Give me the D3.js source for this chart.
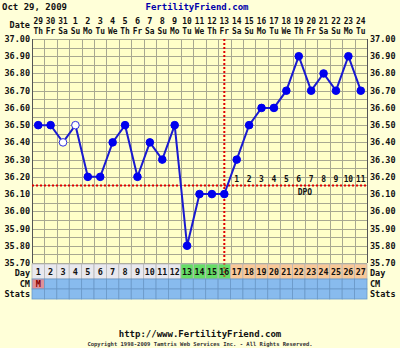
<!DOCTYPE html>
<html><head><meta charset="utf-8">
<script src="https://cdn.jsdelivr.net/npm/d3@7"></script>
<style>
html,body{margin:0;padding:0;background:#ffffd8;}
svg{display:block;}
text{font-family:"DejaVu Sans Mono",monospace;font-weight:bold;fill:#111;}
</style></head><body>
<div id="chart"></div>
<script>
const cycleDays = d3.range(1, 28);
const dates = ["29","30","31","1","2","3","4","5","6","7","8","9","10","11","12","13","14","15","16","17","18","19","20","21","22","23","24"];
const weekdays = ["Th","Fr","Sa","Su","Mo","Tu","We","Th","Fr","Sa","Su","Mo","Tu","We","Th","Fr","Sa","Su","Mo","Tu","We","Th","Fr","Sa","Su","Mo","Tu"];
const temps = [36.50,36.50,36.40,36.50,36.20,36.20,36.40,36.50,36.20,36.40,36.30,36.50,35.80,36.10,36.10,36.10,36.30,36.50,36.60,36.60,36.70,36.90,36.70,36.80,36.70,36.90,36.70];
const openPoints = [3, 4];
const yTicks = [37.00,36.90,36.80,36.70,36.60,36.50,36.40,36.30,36.20,36.10,36.00,35.90,35.80,35.70];
const coverline = 36.15;
const ovulationDay = 16;
const fertileDays = [13,14,15,16];
const dpoLabels = ["1","2","3","4","5","6","7","8","9","10","11"];
const cmRow = {1: "M"};

(function(){
const W = 400, H = 348;
const svg = d3.select("#chart").append("svg").attr("width", W).attr("height", H);
svg.append("rect").attr("width", W).attr("height", H).attr("fill", "#ffffd8");

const pL = 32, pR = 367, pT = 39, pB = 263;
const x = d3.scaleBand().domain(cycleDays).range([pL, pR]).padding(0);
const y = d3.scaleLinear().domain([35.7, 37.0]).range([pB, pT]);
const bw = x.bandwidth();

svg.append("rect").attr("x", pL).attr("y", pT).attr("width", pR-pL).attr("height", pB-pT).attr("fill", "#ffffc8");

const hg = d3.range(0, 27).map(i => 35.7 + i*0.05);
svg.append("g").selectAll("line").data(hg).join("line")
  .attr("x1", pL).attr("x2", pR).attr("y1", d => Math.round(y(d))+0.5).attr("y2", d => Math.round(y(d))+0.5)
  .attr("stroke", "#a8a890").attr("stroke-width", 1);
svg.append("g").selectAll("line").data(cycleDays.concat([28])).join("line")
  .attr("x1", d => Math.round(d===28 ? pR : x(d))+0.5).attr("x2", d => Math.round(d===28 ? pR : x(d))+0.5)
  .attr("y1", pT).attr("y2", pB).attr("stroke", "#a8a890");

svg.append("line").attr("x1", pL+0.5).attr("x2", pL+0.5).attr("y1", pT).attr("y2", pB).attr("stroke", "#555");
svg.append("line").attr("x1", pR+0.5).attr("x2", pR+0.5).attr("y1", pT).attr("y2", pB).attr("stroke", "#555");

const fmt = d3.format(".2f");
svg.append("g").selectAll("text").data(yTicks).join("text")
  .attr("x", 30).attr("y", d => y(d)+3).attr("text-anchor", "end").attr("font-size", 8.5).text(fmt);
svg.append("g").selectAll("text").data(yTicks).join("text")
  .attr("x", 370).attr("y", d => y(d)+3).attr("text-anchor", "start").attr("font-size", 8.5).text(fmt);

svg.append("text").attr("x", 2).attr("y", 10).attr("font-size", 9).text("Oct 29, 2009");
svg.append("text").attr("x", 197).attr("y", 10).attr("text-anchor", "middle").attr("font-size", 9).style("fill", "#0000aa").text("FertilityFriend.com");
svg.append("text").attr("x", 30).attr("y", 28).attr("text-anchor", "end").attr("font-size", 8.5).text("Date");
svg.append("g").selectAll("text").data(cycleDays).join("text")
  .attr("x", d => x(d)+bw/2).attr("y", 24).attr("text-anchor", "middle").attr("font-size", 8.5)
  .attr("textLength", (d,i) => dates[i].length > 1 ? 9.5 : null)
  .attr("lengthAdjust", "spacingAndGlyphs")
  .text((d,i) => dates[i]);
svg.append("g").selectAll("text").data(cycleDays).join("text")
  .attr("x", d => x(d)+bw/2).attr("y", 34).attr("text-anchor", "middle").attr("font-size", 8.5)
  .attr("textLength", 9.5).attr("lengthAdjust", "spacingAndGlyphs")
  .text((d,i) => weekdays[i]);

svg.append("line").attr("x1", pL).attr("x2", pR).attr("y1", y(coverline)).attr("y2", y(coverline))
  .attr("stroke", "#e00000").attr("stroke-width", 2).attr("stroke-dasharray", "2,2");
const ox = x(ovulationDay)+bw/2;
svg.append("line").attr("x1", ox).attr("x2", ox).attr("y1", pT).attr("y2", pB)
  .attr("stroke", "#e00000").attr("stroke-width", 2).attr("stroke-dasharray", "2,2");

svg.append("g").selectAll("text").data(dpoLabels).join("text")
  .attr("x", (d,i) => x(ovulationDay+1+i)+bw/2).attr("y", y(coverline)-3).attr("text-anchor", "middle").attr("font-size", 8)
  .attr("textLength", d => d.length>1 ? 9.5 : null).attr("lengthAdjust", "spacingAndGlyphs")
  .text(d => d);
svg.append("text").attr("x", x(22)+bw).attr("y", y(coverline)+10).attr("text-anchor", "middle").attr("font-size", 8).text("DPO");

const line = d3.line().x((d,i) => x(cycleDays[i])+bw/2).y(d => y(d));
svg.append("path").datum(temps).attr("d", line).attr("fill", "none").attr("stroke", "#1a1ad0").attr("stroke-width", 2);
svg.append("g").selectAll("circle").data(cycleDays).join("circle")
  .attr("cx", d => x(d)+bw/2).attr("cy", (d,i) => y(temps[i])).attr("r", 3.8)
  .attr("fill", d => openPoints.includes(d) ? "#ffffff" : "#0000ee")
  .attr("stroke", d => openPoints.includes(d) ? "#3030e0" : "#0000ee").attr("stroke-width", 1);

const rowDay = [264, 279], rowCM = [279, 289], rowStats = [289, 299];
function dayColor(d){ if (fertileDays.includes(d)) return "#66dd66"; if (d > ovulationDay) return "#f8c898"; return "#e8e8ee"; }
const g = svg.append("g");
g.selectAll("rect.day").data(cycleDays).join("rect").attr("class","day")
  .attr("x", d => x(d)).attr("y", rowDay[0]).attr("width", bw).attr("height", rowDay[1]-rowDay[0])
  .attr("fill", dayColor).attr("stroke", "#b8b8b8").attr("stroke-width", 0.8);
g.selectAll("rect.cm").data(cycleDays).join("rect").attr("class","cm")
  .attr("x", d => x(d)).attr("y", rowCM[0]).attr("width", bw).attr("height", rowCM[1]-rowCM[0])
  .attr("fill", d => cmRow[d] ? "#e09098" : "#88bbee").attr("stroke", "#6a98c8").attr("stroke-width", 0.8);
g.selectAll("rect.st").data(cycleDays).join("rect").attr("class","st")
  .attr("x", d => x(d)).attr("y", rowStats[0]).attr("width", bw).attr("height", rowStats[1]-rowStats[0])
  .attr("fill", "#88bbee").attr("stroke", "#6a98c8").attr("stroke-width", 0.8);
g.selectAll("text.dn").data(cycleDays).join("text").attr("class","dn")
  .attr("x", d => x(d)+bw/2).attr("y", 275).attr("text-anchor", "middle").attr("font-size", 8.5)
  .attr("textLength", d => d>9 ? 10 : null).attr("lengthAdjust", "spacingAndGlyphs")
  .text(d => d);
g.selectAll("text.cmt").data(cycleDays.filter(d => cmRow[d])).join("text").attr("class","cmt")
  .attr("x", d => x(d)+bw/2).attr("y", 287).attr("text-anchor", "middle").attr("font-size", 8.5).style("fill", "#880000")
  .text(d => cmRow[d]);
svg.append("line").attr("x1", ox).attr("x2", ox).attr("y1", pB).attr("y2", pB+15)
  .attr("stroke", "#e00000").attr("stroke-width", 2).attr("stroke-dasharray", "2,2").attr("opacity", 0.5);

const rowLabels = [["Day", 276], ["CM", 287], ["Stats", 297]];
rowLabels.forEach(([t, yy]) => {
  svg.append("text").attr("x", 30).attr("y", yy).attr("text-anchor", "end").attr("font-size", 8.5).text(t);
  svg.append("text").attr("x", 370).attr("y", yy).attr("text-anchor", "start").attr("font-size", 8.5).text(t);
});

svg.append("text").attr("x", 200).attr("y", 337).attr("text-anchor", "middle").attr("font-size", 9).text("http://www.FertilityFriend.com");
svg.append("text").attr("x", 200).attr("y", 346).attr("text-anchor", "middle").attr("font-size", 5.5).attr("font-weight", "normal").style("fill", "#333").text("Copyright 1998-2009 Tamtris Web Services Inc. - All Rights Reserved.");
})();
</script></body></html>
